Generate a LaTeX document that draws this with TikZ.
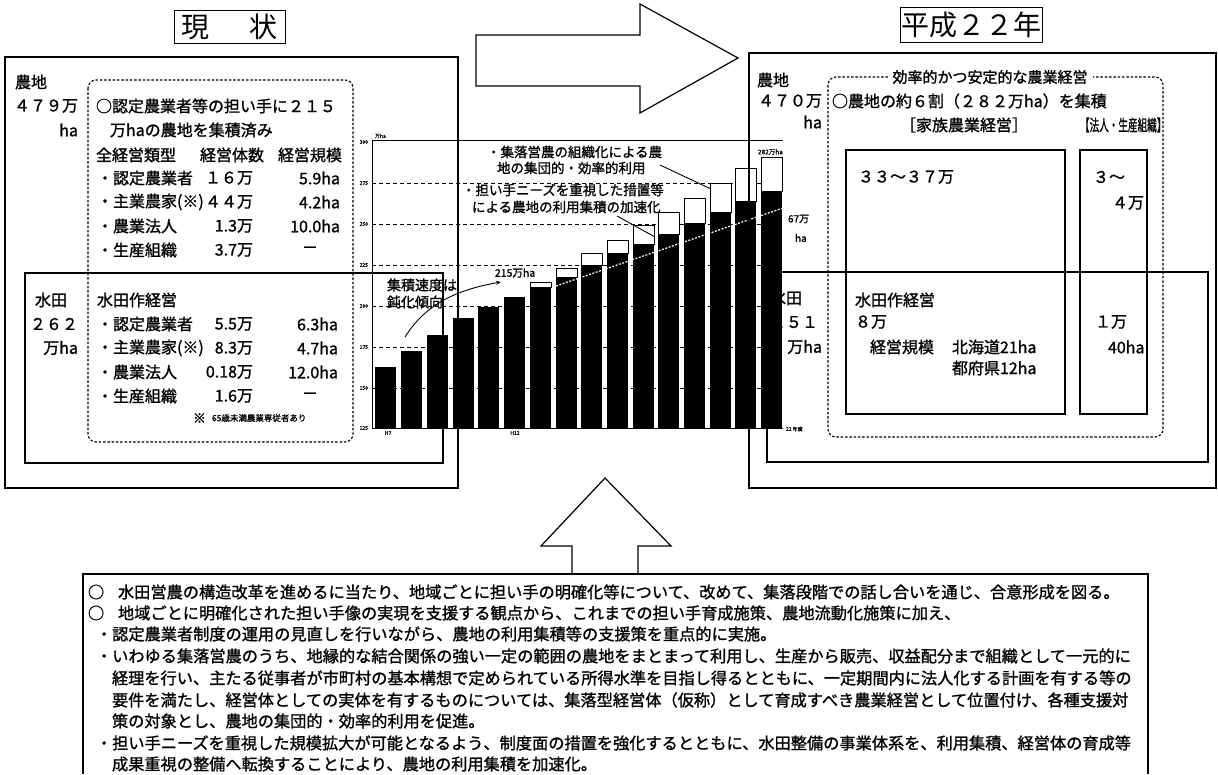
\documentclass[tikz,border=0pt]{standalone}
\usepackage{fontspec}
\usepackage{graphicx}
\usetikzlibrary{arrows.meta}
\newfontfamily\jp{Noto Sans CJK JP}[FakeBold=1.2]
\newfontfamily\jpt{Noto Sans CJK JP}
\newcommand\setfs[1]{\fontsize{#1}{#1}\selectfont}
\begin{document}
\begin{tikzpicture}[x=1pt,y=-1pt,
  every node/.style={inner sep=0pt,outer sep=0pt,font=\jp\setfs{16}},
  tl/.style={anchor=west},
  tr/.style={anchor=east},
  fcall/.style={anchor=west,font=\jp\setfs{13.5}},
  ftiny/.style={font=\jp\setfs{5}},
  body/.style={anchor=west,font=\jp\setfs{16.2}},
  boxline/.style={draw,line width=1.1pt},
  dbox/.style={draw,line width=1.1pt,dash pattern=on 2.5pt off 1.8pt,rounded corners=8pt},
  gridl/.style={line width=0.6pt,dash pattern=on 4pt off 3pt},
  bigarrow/.style={draw,line width=1.2pt,line join=miter},
  titlebox/.style={draw,line width=1pt,font=\jpt\setfs{28}}]
\useasboundingbox (0,0) rectangle (1218,774);

% ---------- titles ----------
\node[titlebox,minimum width=111pt,minimum height=33pt] (tnow) at (229.5,26.5) {現\hspace{40pt}状};
\node[titlebox,minimum width=142pt,minimum height=35pt] (tfut) at (971,24.5) {平成２２年};

% ---------- chart frame and grid ----------
\draw[line width=0.8pt] (372,140) -- (783,140);
\foreach \g in {183,224,265,306,347,388} \draw[gridl] (372,\g) -- (783,\g);
\draw[line width=0.8pt] (372,140) -- (372,428) -- (783,428);
\foreach \g/\v in {142/300,183/275,224/250,265/225,306/200,347/175,388/150,428/125}
  \node[ftiny,anchor=east] (yl\v) at (368,\g) {\v};
\node[ftiny,anchor=west] (yunit) at (375,136) {万ha};
\node[ftiny] (xa) at (388,433) {H7};
\node[ftiny] (xb) at (515,433) {H12};
\node[ftiny,anchor=west] (xc) at (786,429) {22 年度};

% ---------- left panel texts ----------
\node[tl] (la1) at (15,82) {農地};
\node[tr] (la2) at (78,106) {４７９万};
\node[tr] (la3) at (78,130) {ha};
\node[tl] (lb1) at (96,106) {○認定農業者等の担い手に２１５};
\node[tl] (lb2) at (110,130) {万haの農地を集積済み};
\node[tl] (lc1) at (96,155) {全経営類型};
\node[tl] (lc2) at (200,155) {経営体数};
\node[tl] (lc3) at (278,155) {経営規模};
\node[tl] (ld1) at (97,178) {・認定農業者};
\node[tr] (ld2) at (253,178) {１６万};
\node[tr] (ld3) at (340,178) {5.9ha};
\node[tl] (le1) at (97,202) {・主業農家(※)};
\node[tr] (le2) at (253,202) {４４万};
\node[tr] (le3) at (340,202) {4.2ha};
\node[tl] (lf1) at (97,226) {・農業法人};
\node[tr] (lf2) at (253,226) {1.3万};
\node[tr] (lf3) at (340,226) {10.0ha};
\node[tl] (lg1) at (97,250) {・生産組織};
\node[tr] (lg2) at (253,250) {3.7万};
\node (lg3) at (310,250) {－};
\node[tl] (lh1) at (35,300) {水田};
\node[tr] (lh2) at (78,324) {２６２};
\node[tr] (lh3) at (78,348) {万ha};
\node[tl] (li0) at (97,300) {水田作経営};
\node[tl] (li1) at (97,324) {・認定農業者};
\node[tr] (li2) at (253,324) {5.5万};
\node[tr] (li3) at (338,324) {6.3ha};
\node[tl] (lj1) at (97,348) {・主業農家(※)};
\node[tr] (lj2) at (253,348) {8.3万};
\node[tr] (lj3) at (338,348) {4.7ha};
\node[tl] (lk1) at (97,372) {・農業法人};
\node[tr] (lk2) at (253,372) {0.18万};
\node[tr] (lk3) at (338,372) {12.0ha};
\node[tl] (ll1) at (97,396) {・生産組織};
\node[tr] (ll2) at (253,396) {1.6万};
\node (ll3) at (310,396) {－};
\node[tl,font=\jp\setfs{13}] (lm1) at (193,418) {※};
\node[tl,font=\jp\setfs{8.5}] (lm2) at (212,418) {65歳未満農業専従者あり};

% ---------- chart texts ----------
\node[fcall] (ca1) at (487,152) {・集落営農の組織化による農};
\node[fcall] (ca2) at (497,168) {地の集団的・効率的利用};
\node[fcall] (cb1) at (462,190) {・担い手ニーズを重視した措置等};
\node[fcall] (cb2) at (472,207) {による農地の利用集積の加速化};
\node[fcall,font=\jp\setfs{14}] (cc1) at (387,285) {集積速度は};
\node[fcall,font=\jp\setfs{14}] (cc2) at (387,302) {鈍化傾向};
\node[tl,font=\jp\setfs{10.5}] (c215) at (495,273) {215万ha};
\node[tl,font=\jp\setfs{6.5}] (c282) at (758,152) {282万ha};
\node[tl,font=\jp\setfs{10}] (c67a) at (788,219) {67万};
\node[tl,font=\jp\setfs{10}] (c67b) at (795,238) {ha};

% ---------- right panel texts ----------
\node[tl] (ra1) at (757,80) {農地};
\node[tr] (ra2) at (822,101) {４７０万};
\node[tr] (ra3) at (822,122) {ha};
\node[tl] (rb1) at (832,101) {○農地の約６割（２８２万ha）を集積};
\node[tl] (rb2) at (900,125) {［家族農業経営］};
\node[tl] (rb3) at (1080,125) {\scalebox{0.6}[1]{【法人・生産組織】}};
\node[tl] (rc1) at (858,177) {３３～３７万};
\node[tl] (rc2) at (1093,177) {３～};
\node[tl] (rc3) at (1112,203) {４万};
\node[tl] (rd1) at (770,298) {水田};
\node[tr] (rd2) at (818,322) {２５１};
\node[tr] (rd3) at (822,347) {万ha};
\node[tl] (re1) at (855,300) {水田作経営};
\node[tl] (re2) at (855,322) {８万};
\node[tl] (re3) at (870,347) {経営規模};
\node[tl] (re4) at (952,347) {北海道21ha};
\node[tl] (re5) at (952,368) {都府県12ha};
\node[tl] (rf1) at (1095,322) {１万};
\node[tl] (rf2) at (1108,347) {40ha};

% ---------- bars ----------
\foreach \x/\d in {375/367,401/351,427/335,453/318,478/307,504/297,530/287,556/277,581/265,607/253,633/244,658/234,684/223,710/212,735/201,761/191}
  \fill[black] (\x,\d) rectangle ({\x+21},428);
\foreach \x/\d/\w in {530/287/282,556/277/268,581/265/253,607/253/240,633/244/225,658/234/212,684/223/198,710/212/183,735/201/168,761/191/157}
  \draw[fill=white,line width=0.8pt] (\x,\w) rectangle ({\x+21},\d);
\draw[white,line width=1.2pt,dash pattern=on 2pt off 1.5pt] (556,286) -- (783,208);

% ---------- panels ----------
\draw[boxline] (5,57) rectangle (458,488);
\draw[boxline] (25,273) rectangle (443,463);
\draw[dbox] (88,80) rectangle (353,442);
\draw[boxline] (749,53) rectangle (1216,488);
\draw[boxline] (767,272) rectangle (1208,462);
\draw[dbox] (828,77) rectangle (1163,437);
\node[fill=white,inner xsep=5pt,inner ysep=2pt,font=\jp\setfs{15}] (rtitle) at (990,77) {効率的かつ安定的な農業経営};
\draw[boxline] (846,150) rectangle (1065,414);
\draw[boxline] (1080,150) rectangle (1147,414);

% ---------- leaders ----------
\coordinate (pa) at (660,165);
\coordinate (pb) at (711,189);
\coordinate (pc) at (617,216);
\coordinate (pd) at (655,237);
\coordinate (pe) at (405,337);
\coordinate (pf) at (501,282);
\draw[line width=0.9pt] (pa) -- (pb);
\draw[line width=0.9pt] (pc) -- (pd);
\draw[line width=0.9pt,-{Stealth[length=5pt,width=4pt]}] (pe) .. controls (425,305) and (455,290) .. (pf);

% ---------- big arrows ----------
\draw[bigarrow] (476,35) -- (640,35) -- (640,4) -- (738,58) -- (640,113) -- (640,86) -- (476,86) -- cycle;
\draw[bigarrow] (572,574) -- (572,546) -- (541,546) -- (605,478) -- (671,546) -- (638,546) -- (638,574);

% ---------- bottom text box ----------
\draw[line width=1.5pt] (83,774) -- (83,574) -- (1148,574) -- (1148,774);
\node[body] (b1o) at (88,592) {○};
\node[body] (b1) at (118,592) {水田営農の構造改革を進めるに当たり、地域ごとに担い手の明確化等について、改めて、集落段階での話し合いを通じ、合意形成を図る。};
\node[body] (b2o) at (88,613) {○};
\node[body] (b2) at (118,613) {地域ごとに明確化された担い手像の実現を支援する観点から、これまでの担い手育成施策、農地流動化施策に加え、};
\node[body] (b3) at (96,634) {・認定農業者制度の運用の見直しを行いながら、農地の利用集積等の支援策を重点的に実施。};
\node[body] (b4) at (96,656) {・いわゆる集落営農のうち、地縁的な結合関係の強い一定の範囲の農地をまとまって利用し、生産から販売、収益配分まで組織として一元的に};
\node[body] (b5) at (112,678) {経理を行い、主たる従事者が市町村の基本構想で定められている所得水準を目指し得るとともに、一定期間内に法人化する計画を有する等の};
\node[body] (b6) at (112,700) {要件を満たし、経営体としての実体を有するものについては、集落型経営体（仮称）として育成すべき農業経営として位置付け、各種支援対};
\node[body] (b7) at (112,721) {策の対象とし、農地の集団的・効率的利用を促進。};
\node[body] (b8) at (96,743) {・担い手ニーズを重視した規模拡大が可能となるよう、制度面の措置を強化するとともに、水田整備の事業体系を、利用集積、経営体の育成等};
\node[body] (b9) at (112,764) {成果重視の整備へ転換することにより、農地の利用集積を加速化。};
\end{tikzpicture}
\end{document}
